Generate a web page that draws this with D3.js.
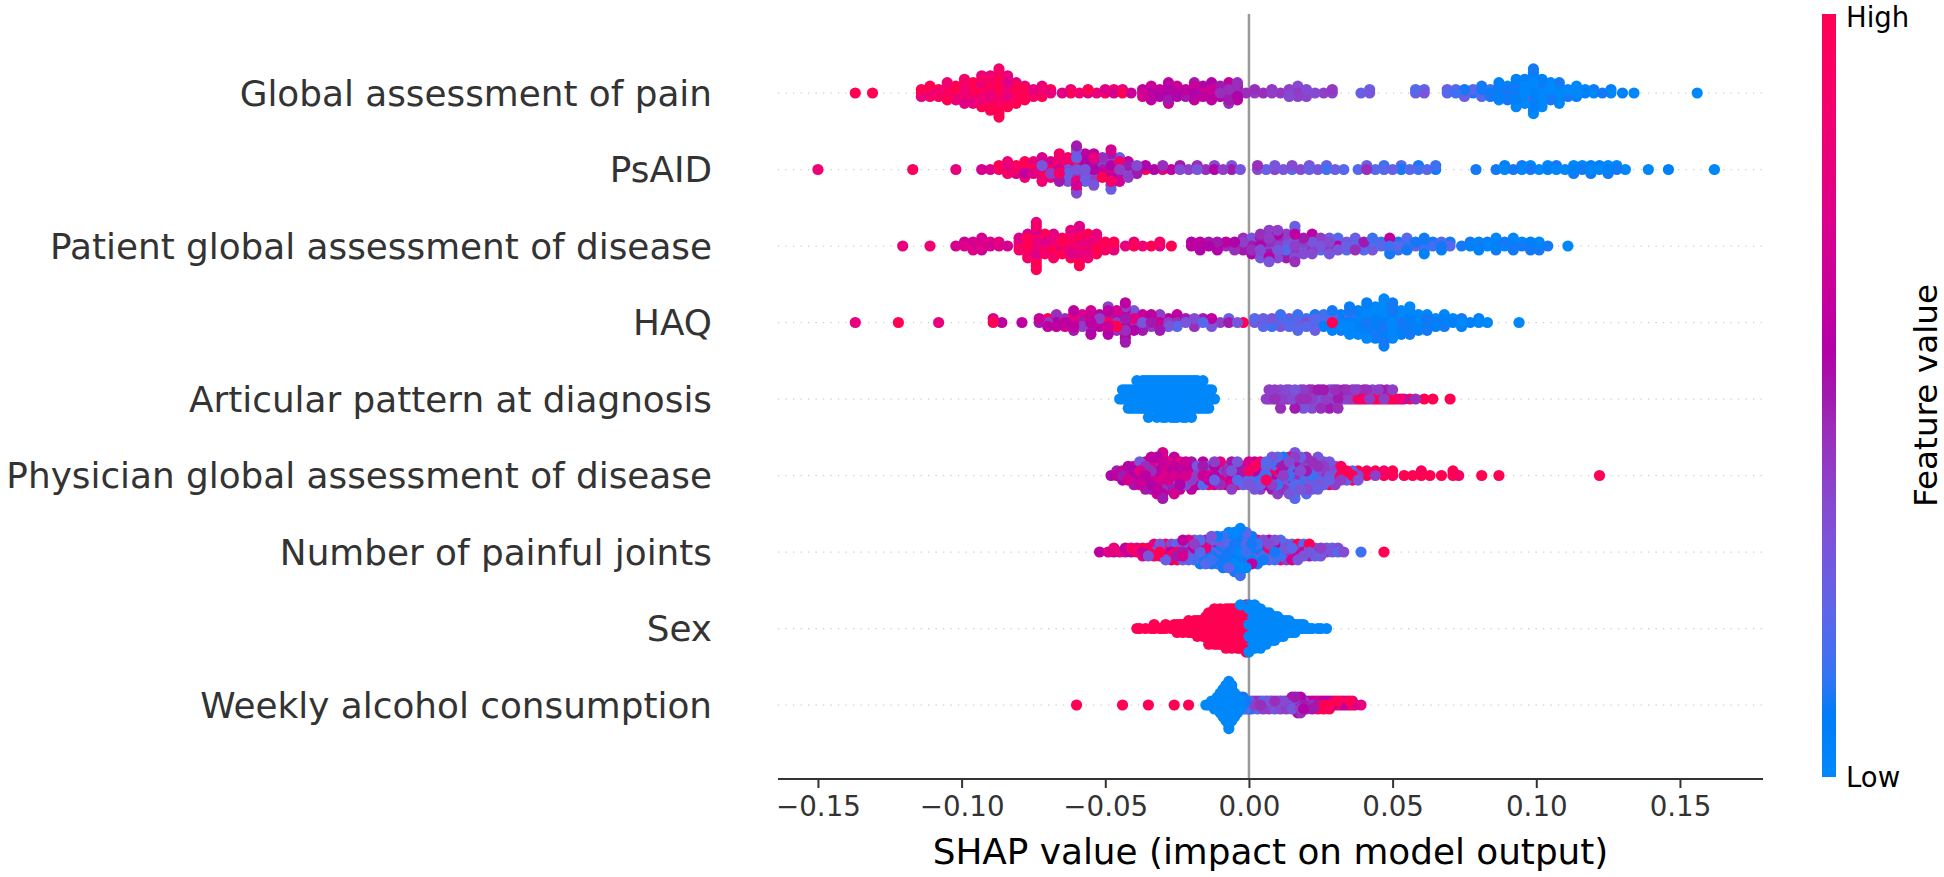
<!DOCTYPE html>
<html>
<head>
<meta charset="utf-8">
<script src="https://cdn.jsdelivr.net/npm/d3@7"></script>
<style>
  body { margin: 0; background: #fff; }
  text { font-family: "DejaVu Sans", sans-serif; }
</style>
</head>
<body>
<div id="chart"></div>
<script>
// features, top to bottom
var features = [
  "Global assessment of pain",
  "PsAID",
  "Patient global assessment of disease",
  "HAQ",
  "Articular pattern at diagnosis",
  "Physician global assessment of disease",
  "Number of painful joints",
  "Sex",
  "Weekly alcohol consumption"
];
var tickValues = [-0.15, -0.10, -0.05, 0.00, 0.05, 0.10, 0.15];
var tickLabels = ["\u22120.15", "\u22120.10", "\u22120.05", "0.00", "0.05", "0.10", "0.15"];

// samples grouped by SHAP value: [SHAP value, [feature value of each sample, 0 = low .. 1 = high]]
var globalPain = [
  [-.137,[1]],[-.131,[1]],
  [-.114,[.9,1,.8]],[-.111,[1,.8,.9,1]],[-.108,[.85,1,.9]],[-.105,[1,.8,.9,.75,1,.85]],[-.102,[.75,1,.9,1,.8]],
  [-.099,[1,.85,.8,1,.9,1,.75,.9]],[-.096,[.9,1,.75,1,.85,1,.8]],[-.093,[1,.8,.9,1,.85,.75,1,.9,1,.8]],
  [-.090,[.9,1,.8,1,.75,1,.85,.9,1,.8,1]],[-.087,[1,.85,1,.8,.9,1,.75,1,.9,.8,1,.85,1,.9,1]],
  [-.084,[.9,1,.8,1,.85,.75,1,.9,1,.8]],[-.081,[1,.8,.9,1,.85,.75,1]],[-.078,[.9,1,.75,.85,1]],[-.075,[1,.8,.9]],
  [-.072,[.9,.85,1,.8]],[-.069,[.8,1]],
  [-.065,[.75]],[-.062,[1,.8]],[-.059,[.85]],[-.056,[.7,1]],[-.053,[.8]],[-.050,[1,.75]],[-.047,[.7,.9]],
  [-.044,[1,.8]],[-.041,[.65]],
  [-.037,[.65,.6,.7]],[-.034,[.55,.7,.6,.65,.6]],[-.031,[.6,.65,.55]],[-.028,[.7,.55,.6,.65,.5,.6,.7]],
  [-.025,[.6,.75,.55,.65]],[-.022,[.65,.6,.5]],[-.019,[.55,.6,.7,.65,.6,.5]],[-.016,[.7,.5,.6,.55]],
  [-.013,[.55,.65,.6,.5,.6,.55]],[-.010,[.45,.6,.55,.5]],[-.007,[.6,.45,.5,.55,.5,.6,.45]],[-.004,[.45,.5,.55,.5,.6,.45]],
  [-.001,[.45]],[.002,[.4,.45]],[.005,[.45]],[.008,[.4,.42]],[.011,[.42]],[.014,[.38,.4,.35]],[.017,[.42,.38,.4,.35]],
  [.020,[.4,.35,.38]],[.023,[.35]],[.026,[.4]],[.029,[.38,.42]],
  [.039,[.25]],[.042,[.3,.25]],[.058,[.25,.2]],[.061,[.3,.2]],
  [.069,[.2,.25]],[.072,[.15,.2]],[.075,[.2,.1,.25]],[.078,[.1,.2]],[.081,[.15,.1,.2,.1]],[.084,[.05,.15,.1]],
  [.087,[.1,0,.05,.1,0,.05]],[.090,[0,.1,.05,0,.1]],[.093,[.05,0,.1,0,.05,.1,0,.05,0]],[.096,[0,.1,.05,0,.3,.1,0,.05]],
  [.099,[.05,0,.1,0,.05,0,.1,0,.05,.1,0,.05,0,.1]],[.102,[0,.1,0,.05,0,.1,0,.05,0]],[.105,[.1,0,.05,0,.1,0]],
  [.108,[0,.05,.1,0,.05,.1,0]],[.111,[.05,0,.1]],[.114,[0,.1,.05,0]],[.117,[.05,0]],[.120,[0,.1]],[.123,[.1]],
  [.126,[0,.05]],[.130,[.05]],[.134,[0]],
  [.156,[0]]
];
var psaid = [
  [-.150,[.85]],[-.117,[.95]],[-.102,[.8]],[-.093,[.7]],[-.090,[.75]],
  [-.087,[.9,1]],[-.084,[1,.8,.9,.85]],[-.081,[.9,1,.7]],[-.078,[1,.85,.6,1,.9]],[-.075,[1,.9,.75,.8]],
  [-.072,[1,.3,.8,.9,1,.7,.85]],[-.069,[.9,1,.4,.7,.85]],[-.066,[.7,.3,.9,1,.35,.8,.5,.9]],[-.063,[.35,.5,.25,.8,.4,.9,.3]],
  [-.060,[.3,.6,.35,.9,.45,.25,.8,.4,.7,.3,1,.5,.35]],[-.057,[.3,.7,.4,.55,.3,.9,.25,.6]],
  [-.054,[.55,.3,.9,.5,.35,.8,.4,.6,.3]],[-.051,[.5,.4,.65,.3,1,.45]],[-.048,[.3,.55,1,.4,.6,.35,.9,.5,.4,.7,.25]],
  [-.045,[.4,.6,.35,.9,.5,.25,.7]],[-.042,[.9,.5,.25,.6,.4]],[-.039,[.7,.35,.5]],
  [-.036,[1,.55]],[-.033,[.55]],[-.030,[.8,.45]],[-.027,[.6]],[-.024,[.35,.5]],[-.021,[.4]],[-.018,[.3,.45]],
  [-.015,[.45]],[-.012,[.55,.35]],[-.009,[.4]],[-.006,[.5,.3]],[-.003,[.3]],
  [.003,[.35,.45]],[.006,[.25]],[.009,[.4,.3]],[.012,[.3]],[.015,[.2,.35]],[.018,[.35]],[.021,[.25,.3]],[.024,[.3]],
  [.027,[.15,.25]],[.030,[.25]],[.033,[.2]],
  [.038,[.2]],[.041,[.45,.25]],[.044,[.2]],[.047,[.2,.15]],[.050,[.25]],[.053,[.1,.2]],[.056,[.2]],[.059,[.15,.1]],
  [.062,[.2]],[.065,[.1,.15]],
  [.079,[.1]],
  [.086,[.1]],[.089,[0,.05]],[.092,[.1]],[.095,[0,.1]],[.098,[.1,0]],[.101,[0]],[.104,[.05,0]],[.107,[0,.1]],[.110,[0]],
  [.113,[.05,0,.1]],[.116,[.1,0]],[.119,[0,.05,.1]],[.122,[0,.05]],[.125,[.05,0,.1]],[.128,[.1,0]],[.131,[0]],
  [.139,[0]],[.146,[.05]],[.162,[0]]
];
var patientGlobal = [
  [-.1205,[.8]],[-.111,[.85]],
  [-.102,[.7]],[-.099,[.75,.65]],[-.096,[.8,.7,.75]],[-.093,[.75,.8,.65,.7]],[-.090,[.7,.75]],[-.087,[.75,.8]],[-.084,[.7]],
  [-.080,[.8,1,.9,.75]],[-.077,[1,.75,.9,1,.85,.7,.9]],[-.074,[1,.8,.9,1,.75,1,.85,.7,1,.9,1,.8,1]],
  [-.071,[1,.75,1,.85,.9,1]],[-.068,[.85,.9,1,.8,1,.75,.9]],[-.065,[.8,1,.7,.9,1]],[-.062,[.9,1,.85,1,.75,.9,1,.8]],
  [-.059,[.75,1,.9,1,.8,1,.85,.9,1,.75,1]],[-.056,[1,.8,1,.9,.75,1,.85]],[-.053,[.9,.75,1,.85,1,.8]],[-.050,[.85,1,.9]],
  [-.047,[.9,1,.8]],
  [-.043,[.8]],[-.040,[1,.85]],[-.037,[.85]],[-.034,[1]],[-.031,[.75,.9]],[-.027,[1]],
  [-.020,[.6,.55]],[-.017,[.5,.6,.55]],[-.014,[.55,.5]],[-.011,[.6,.5,.55]],[-.008,[.45,.6]],[-.005,[.5,.55,.45]],
  [-.002,[.6,.4,.5,.45]],
  [.001,[.5,.4,.45,.3,.55]],[.004,[.55,.4,.35,.5,.6,.45,.3]],[.007,[.3,.45,.25,.4,.5,.35,.6,.4,.3]],
  [.010,[.4,.5,.3,.45,.2,.55,.35,.4]],[.013,[.3,.45,.2,.35,.6,.4,.5]],[.016,[.4,.2,.5,.3,.45,.6,.35,.3,.45,.25]],
  [.019,[.3,.4,.2,.5,.35]],[.022,[.5,.3,.45,.25,.35,.6]],[.025,[.3,.6,.2,.4]],[.028,[.2,.35,.45,.25,.3]],
  [.031,[.6,.25,.3,.2]],[.034,[.25,.3,.2]],[.037,[.2,.3,.45,.25]],
  [.040,[.25,.5,.2]],[.043,[.5,.2,.3,.15]],[.046,[.2,.15]],[.049,[.15,.3,.2,.6,.1]],[.052,[.2,.1,.15]],
  [.055,[.15,.25,.1,.2]],[.058,[.25,.1]],[.061,[.1,.2,.15,.1,.05]],[.064,[.15,.1]],[.067,[.1,.2,.05]],[.070,[.2,.1]],
  [.074,[.1]],[.077,[.05,.1]],[.080,[.1,0,.05]],[.083,[0,.1]],[.086,[.05,0,.1,0]],[.089,[0,.1]],[.092,[.05,0,.1,0]],
  [.095,[.1,0]],[.098,[0,.05,.1]],[.101,[.05,0,.1]],[.104,[.1]],
  [.111,[0]]
];
var haq = [
  [-.137,[.8]],[-.122,[1]],[-.108,[.8]],[-.089,[1,.75]],[-.086,[.6]],[-.079,[.6]],
  [-.073,[.5,.65]],[-.070,[.4,1,.6]],[-.067,[.55,.8,.6,.45]],[-.064,[.6,.45,.7]],[-.061,[.75,.4,.6,.85,.5,.6]],
  [-.058,[.5,.65,.4,.7]],[-.055,[.6,1,.45,.65,.5,.7,.55]],[-.052,[.75,.4,.6,.55]],[-.049,[1,.45,.65,.5,.75,.6,.55,.4]],
  [-.046,[.4,.6,1,.55,.45,.7]],[-.043,[.7,.5,.6,.85,.45,.65,1,.4,.55,.6,.5]],[-.040,[.5,.75,.4,.6,.55,.3]],
  [-.037,[.3,.6,.45,.65,.5]],[-.034,[.5,.75,.4,.6]],[-.031,[.6,.55,.7,.4,.5]],[-.028,[.4,.6,.3]],[-.025,[.45,.55,.2,.6]],
  [-.022,[.3,.5]],[-.019,[.55,.35,.45]],[-.016,[.2,.5]],[-.013,[.35,.6,.3]],[-.010,[.4]],[-.007,[.5,.25]],[-.004,[.3]],
  [-.002,[1]],
  [.002,[.3,.2]],[.005,[1,.25,.2]],[.008,[.2,.3,.15]],[.011,[.25,.2,.3,.15]],[.014,[.15,.3,.2]],[.017,[.2,.1,.25,.15,.2]],
  [.020,[.35,.15,.2]],[.023,[.1,.2,.15,.1,.25]],[.026,[.2,.1,.05,.15]],[.029,[1,.15,.1,.2,.05,.1]],[.032,[.1,.2,0,.05,.1]],
  [.035,[.05,.1,0,.15,.05,.1,0,.05]],[.038,[0,.1,.05,0,.1,.05,0]],[.041,[.1,0,.05,0,.1,0,.05,.1,0,.05]],
  [.044,[0,.05,.1,0,.05,0,.1,0,.05]],[.047,[.05,0,.1,0,.05,0,.1,0,.05,0,.1,0,.05]],[.050,[0,.1,0,.05,0,.1,0,.05,0,.1]],
  [.053,[.1,0,.05,0,.1,0,.05]],[.056,[0,.05,.1,0,.05,0,.1,0]],[.059,[.05,0,.1,0,.05]],[.062,[0,.1,.05,0,.1]],
  [.065,[.1,0,.05]],[.068,[0,.05,.1,0]],[.071,[.05,0]],[.074,[0,.1,.05]],[.077,[.05]],[.080,[0,.05]],[.083,[0]],
  [.094,[0]]
];
var articular = [
  [-.045,[0]],[-.044,[0,0]],[-.043,[0,0]],[-.042,[0,0,0]],[-.041,[0,0,0]],[-.040,[0,0,0]],[-.039,[0,0,0,0]],
  [-.038,[0,0,0]],[-.037,[0,0,0,0]],[-.036,[0,0,0,0]],[-.035,[0,0,0,0,0]],[-.034,[0,0,0,0]],[-.033,[0,0,0,0]],
  [-.032,[0,0,0,0,0]],[-.031,[0,0,0,0]],[-.030,[0,0,0,0,0]],[-.029,[0,0,0,0,0]],[-.028,[0,0,0,0]],
  [-.027,[0,0,0,0,0]],[-.026,[0,0,0,0,0]],[-.025,[0,0,0,0,0]],[-.024,[0,0,0,0]],[-.023,[0,0,0,0,0]],
  [-.022,[0,0,0,0,0]],[-.021,[0,0,0,0]],[-.020,[0,0,0,0,0]],[-.019,[0,0,0,0]],[-.018,[0,0,0,0]],[-.017,[0,0,0]],
  [-.016,[0,0,0,0]],[-.015,[0,0,0]],[-.014,[0,0,0]],[-.013,[0,0]],[-.012,[0]],
  [.006,[.4]],[.007,[.45,.4]],[.008,[.35]],[.009,[.45,.4]],[.010,[.5]],[.011,[.4,.35,.45]],[.012,[.4]],
  [.013,[.45,.35]],[.014,[.5,.4]],[.015,[.35]],[.016,[.45,.3,.5]],[.017,[.4]],[.018,[.45,.35]],[.019,[.5,.4,.3]],
  [.020,[.45]],[.021,[.35,.5]],[.022,[.4,.45,.35]],[.023,[.3]],[.024,[.45,.5]],[.025,[.35,.4,.45]],[.026,[.3,.5]],
  [.027,[.4]],[.028,[.45,.35,.5]],[.029,[.4,.3]],[.030,[.35,.45]],[.031,[.5,.4,.45]],[.032,[.35]],[.033,[.4,.5]],
  [.034,[.3,.45]],[.035,[.4]],[.036,[1,.45]],[.037,[.35,.4]],[.038,[1,.45]],[.039,[.9]],[.040,[.4,.5]],
  [.041,[1,.45]],[.042,[.4]],[.043,[.9,.35]],[.044,[1]],[.045,[.45,.4]],[.046,[1,.5]],[.047,[.4]],[.048,[.9,.45]],
  [.049,[1]],[.050,[.6,.4]],[.051,[1]],[.052,[.45]],[.053,[.85]],[.054,[.5]],[.056,[1]],[.058,[.45]],[.061,[1]],
  [.064,[1]],[.070,[1]]
];
var physicianGlobal = [
  [-.048,[.55]],[-.046,[.6,.5]],[-.044,[.5,.65,.55]],[-.042,[.65,.3,.7,.55]],[-.040,[.7,.55,.6,.8,.5]],
  [-.038,[.5,.75,.6,.55,.65,.3]],[-.036,[.6,.55,.7,.45,.8,.6,.5]],[-.034,[.7,.45,.65,.6,.55,.75,.5,.6]],
  [-.032,[.65,.6,.8,.5,.7,.3,.6,.55,.65]],[-.030,[.75,.5,.6,.7,.55,.65,.45,.8,.6,.7,.5]],[-.028,[.6,.3,.7,.55,.65,.75,.5]],
  [-.026,[.7,.55,.65,.6,.25,.75,.5,.6,.7]],[-.024,[.65,.6,.7,.5,.55,.8,.6]],[-.022,[.7,.5,.75,.6,.35,.65]],
  [-.020,[.75,.6,.4,.55,.7,.5,.6]],[-.018,[.4,.55,.65,.3,.6]],[-.016,[.65,.3,.8,.5,.2,.6]],[-.014,[.8,.5,.6,.25,.9]],
  [-.012,[.6,.9,.25,.55,.7,.4]],[-.010,[.25,.55,.7,.2,.45,.8]],[-.008,[.7,.45,.9,.3,.6]],[-.006,[.9,.3,.6,.2,.75,.5,.4]],
  [-.004,[.6,.75,.2,.5,.9,.3]],[-.002,[.2,.5,.4,.8,.25]],[.000,[.4,.9,.2,.55,.3,.7]],[.002,[.2,.55,.3,.95,.15,.6,.3]],
  [.004,[.3,.7,.15,.5,.25,.85,.4]],[.006,[.15,.5,.95,.25,.6,.2]],[.008,[.95,.25,.6,.2,.4,.15,.5,.3]],
  [.010,[.6,.2,.4,.85,.15,.5,.3,.2,.4]],[.012,[.4,.85,.15,.5,.3,.2,.45,.1]],[.014,[.15,.5,.3,.2,.45,.35,.2,.9,.3]],
  [.016,[.3,.2,.45,.35,.2,.5,.15,.4,.25,.3,.2]],[.018,[.45,.35,.2,.5,.15,.4,.3,.25]],[.020,[.2,.5,.15,.4,.3,.25,.35,.45,.2]],
  [.022,[.15,.4,.3,.35,.2,.45,.3]],[.024,[.3,.35,.2,.45,.3,.4,.25,.3]],[.026,[.2,.45,.3,.4,.25,.35]],
  [.028,[.3,.4,.25,.35,1,.3]],[.030,[.25,.35,1,.3,.4]],[.032,[1,.3,.4,.95]],[.034,[.4,1,.25]],[.036,[1,.25,.95]],
  [.038,[.35,1,.3]],
  [.041,[1,.9]],[.044,[.4,1]],[.047,[1,.9]],[.050,[.95,1]],[.054,[1]],[.057,[1]],[.060,[1,.9]],[.063,[1]],
  [.067,[1]],[.071,[1,1]],[.073,[.9]],[.081,[1]],[.087,[1]],[.122,[1]]
];
var painfulJoints = [
  [-.052,[.6]],[-.049,[.75]],[-.047,[.65,.8]],[-.045,[.8]],[-.043,[.7,.6]],[-.041,[.6,.9]],[-.039,[.9,.75]],
  [-.037,[.65,1,.75]],[-.035,[1,.8,.3]],[-.033,[.3,.7,1,.8]],[-.031,[1,.25,.85,.3]],[-.029,[.85,.3,.6,1,.25]],
  [-.027,[.6,.2,.9,.35,.7]],[-.025,[.9,.35,.5,.2,1]],[-.023,[.5,.2,.7,.3,.25,.6]],[-.021,[.7,.3,.25,.6,.2,.8]],
  [-.019,[.25,.6,.2,.4,.15,.3]],[-.017,[.2,.4,.15,.8,.35,.2,.1]],[-.015,[.15,.8,.2,.35,.1,.5,.2]],
  [-.013,[.2,.35,.1,.5,.15,.25,.1,.3]],[-.011,[.1,.5,.15,.25,.1,.3,.2,.05]],[-.009,[.15,.25,.1,.3,.1,.2,0,.15,.1]],
  [-.007,[.1,.3,.1,.2,0,.15,.1,.05,.2,0]],[-.005,[.2,0,.15,.1,.05,.2,0,.1,.15,0,.1]],
  [-.003,[0,.2,.1,.05,.15,0,.1,.2,0,.05,.1,0,.15]],[-.001,[.15,0,.1,.2,.05,0,.1,.15,0,.2]],
  [.001,[.2,.05,.3,.1,0,.15,.6,.1]],[.003,[.3,.1,.6,.15,.2,.9,.1]],[.005,[.6,.15,.2,.9,.1,.35]],
  [.007,[.2,.9,.1,.35,.2,.6]],[.009,[.1,.35,.2,.6,.15,.3]],[.011,[.2,.6,.15,.3,.9,.2]],[.013,[.15,.3,.9,.2,.4]],
  [.015,[.9,.2,.4,.25,.7]],[.017,[.4,.25,.7,1,.3]],[.019,[.7,1,.3,.2]],[.021,[.3,.2,.5,1]],[.023,[.5,.35,.25]],
  [.025,[.25,.4,.3]],[.027,[.4,.3]],[.029,[.3,.2]],[.031,[.2,.35]],[.033,[.35]],[.039,[.15]],[.047,[1]]
];
var sex = [
  [-.039,[1]],[-.038,[1]],[-.036,[1]],[-.034,[1]],[-.033,[1,1]],[-.031,[1]],[-.030,[1]],[-.029,[1,1]],[-.027,[1]],
  [-.026,[1,1]],[-.025,[1,1,1]],[-.024,[1,1]],[-.023,[1,1,1]],[-.022,[1,1]],[-.021,[1,1,1,1]],[-.020,[1,1,1]],
  [-.019,[1,1,1,1]],[-.018,[1,1,1,1,1]],[-.017,[1,1,1,1]],[-.016,[1,1,1,1,1]],[-.015,[1,1,1,1,1,1]],
  [-.014,[1,1,1,1,1,1,1,1,1]],[-.013,[1,1,1,1,1,1,1,1]],[-.012,[1,1,1,1,1,1,1,1,1,1]],[-.011,[1,1,1,1,1,1,1,1,1]],
  [-.010,[1,1,1,1,1,1,1,1,1,1]],[-.009,[1,1,1,1,1,1,1,1,1]],[-.008,[1,1,1,1,1,1,1,1,1,1,1]],
  [-.007,[1,1,1,1,1,1,1,1,1,1]],[-.006,[1,1,1,1,1,1,1,1,1,1,1]],[-.005,[1,1,1,1,1,1,1,1,1,1]],
  [-.004,[1,1,1,1,1,1,1,1,1,1,1]],[-.003,[1,1,1,1,1,1,1,1,1,1,1,0]],[-.002,[1,1,1,1,1,1,1,1,1,1,1]],
  [-.001,[1,1,1,1,1,1,1,1,1,1,1,1,1]],
  [.000,[0,0,0,0,0,0,0,0,0,0,0,0,0]],[.001,[0,0,0,0,0,0,0,0,0,0,0]],[.002,[0,0,0,0,0,0,0,0,0,0,0,0]],
  [.003,[0,0,0,0,0,0,0,0,0,0]],[.004,[0,0,0,0,0,0,0,0,0,0,0]],[.005,[0,0,0,0,0,0,0,0,0]],[.006,[0,0,0,0,0,0,0,0,0]],
  [.007,[0,0,0,0,0,0,0,0]],[.008,[0,0,0,0,0,0,0]],[.009,[0,0,0,0,0,0,0]],[.010,[0,0,0,0,0,0]],[.011,[0,0,0,0,0]],
  [.012,[0,0,0,0,0]],[.013,[0,0,0,0]],[.014,[0,0,0,0]],[.015,[0,0,0]],[.016,[0,0,0]],[.017,[0,0]],[.018,[0,0]],
  [.019,[0,0]],[.020,[0]],[.021,[0]],[.022,[0]],[.024,[0]],[.025,[0]],[.027,[0]]
];
var alcohol = [
  [-.060,[1]],[-.044,[1]],[-.035,[1]],[-.026,[1]],[-.021,[1]],
  [-.015,[0]],[-.014,[0]],[-.013,[0,0]],[-.012,[0,0,0]],[-.011,[0,0,0,0]],[-.010,[0,0,0,0,0,0]],
  [-.009,[0,0,0,0,0,0,0,0]],[-.008,[0,0,0,0,0,0,0,0,0,0]],[-.007,[0,0,0,0,0,0,0,0,0,0,0,0,0]],
  [-.006,[0,0,0,0,0,0,0,0,0,0]],[-.005,[0,0,0,0,0,0,0]],[-.004,[0,0,0,0,0]],[-.003,[0,0,0,0]],[-.002,[0,0,0,.1]],
  [-.001,[0,.1,.2]],
  [.000,[.3,.2,.1]],[.001,[.2,.4,.3]],[.002,[.4,.3]],[.003,[.3,.45,.2]],[.004,[.45,.35]],[.005,[.35,.2,.4]],
  [.006,[.2,.5]],[.007,[.5,.3,.4]],[.008,[.3,.4]],[.009,[.4,.45,.3]],[.010,[.45,.3]],[.011,[.3,.5,.35]],
  [.012,[.5,.35]],[.013,[.35,.55,.4]],[.014,[.55,.4]],[.015,[.4,.45,.3,.5]],[.016,[.45,.3,.6,.5]],
  [.017,[.3,.6,.5,.4,.55]],[.018,[.6,.5,.4,.55,.45]],[.019,[.5,.4,.55]],[.020,[.4,.55,.45]],[.021,[.55,.45]],
  [.022,[.45,.6,.5]],[.023,[.6,.5]],[.024,[.5,.7,1]],[.025,[.7,1]],[.026,[1,.55,1]],[.027,[.55,1]],[.028,[1,.6,1]],
  [.029,[.6,1]],[.030,[1,.8]],[.031,[.8,1]],[.032,[1,.6]],[.033,[.6,1]],[.034,[1,.7]],[.035,[.7,1]],[.036,[1,.75]],
  [.037,[.75]],[.039,[.8]]
];
var rows = [globalPain, psaid, patientGlobal, haq, articular, physicianGlobal, painfulJoints, sex, alcohol];

var width = 1944, height = 877;
var plotLeft = 778, plotRight = 1763, plotTop = 14, plotBottom = 779;

var svg = d3.select("#chart")
  .append("svg")
  .attr("width", width)
  .attr("height", height)
  .style("background", "#fff");

var x = d3.scaleLinear().domain([-0.1639, 0.1789]).range([plotLeft, plotRight]);
// row positions: 0 = bottom feature, 8 = top feature
var y = d3.scaleLinear().domain([0, features.length - 1]).range([705, 93]);

// shap red_blue map: hue/chroma/lightness interpolated in LCh
function shapColor(t) {
  t = Math.max(0, Math.min(1, t));
  var l = t < 0.5 ? 54 - 28 * t : 40 + 28 * (t - 0.5);
  return d3.hcl(266.93 + t * 113.39, 70 + 20 * t, l).formatRgb();
}

// beeswarm offsets, stacked the way shap's summary plot does it
function swarm(groups) {
  var pts = [];
  groups.forEach(function (g) {
    g[1].forEach(function (f, layer) {
      pts.push({ v: g[0], f: f, k: Math.ceil(layer / 2) * ((layer % 2) * 2 - 1) });
    });
  });
  var m = d3.max(pts, function (p) { return p.k; }) + 1;
  pts.forEach(function (p, i) {
    p.dy = p.k * 0.9 * 0.4 / m;
    p.order = (i * 0.6180339887) % 1; // mixed drawing order, like shap's shuffled samples
  });
  return pts.sort(function (a, b) { return a.order - b.order; });
}

// row guide lines
features.forEach(function (f, i) {
  var pos = features.length - 1 - i;
  svg.append("line")
    .attr("x1", plotLeft).attr("x2", plotRight)
    .attr("y1", y(pos)).attr("y2", y(pos))
    .attr("stroke", "#cccccc")
    .attr("stroke-width", 1.25)
    .attr("stroke-dasharray", "1.25,6.25");
});

// zero line
svg.append("line")
  .attr("x1", x(0)).attr("x2", x(0))
  .attr("y1", plotTop).attr("y2", plotBottom)
  .attr("stroke", "#999999")
  .attr("stroke-width", 2.5);

// points
rows.forEach(function (data, i) {
  var pos = features.length - 1 - i;
  svg.append("g")
    .selectAll("circle")
    .data(swarm(data))
    .enter()
    .append("circle")
    .attr("cx", function (d) { return x(d.v); })
    .attr("cy", function (d) { return y(pos + d.dy); })
    .attr("r", 5.6)
    .attr("fill", function (d) { return shapColor(d.f); });
});

// feature labels
svg.append("g")
  .selectAll("text")
  .data(features)
  .enter()
  .append("text")
  .attr("x", 712)
  .attr("y", function (d, i) { return y(features.length - 1 - i); })
  .attr("dy", "0.36em")
  .attr("text-anchor", "end")
  .attr("fill", "#333333")
  .style("font-size", "35.8px")
  .text(function (d) { return d; });

// x axis
var xAxis = d3.axisBottom(x)
  .tickValues(tickValues)
  .tickFormat(function (d, i) { return tickLabels[i]; })
  .tickSize(9)
  .tickPadding(8);
var gx = svg.append("g")
  .attr("transform", "translate(0," + plotBottom + ")")
  .call(xAxis);
gx.select(".domain")
  .attr("d", "M" + plotLeft + ",0H" + plotRight)
  .attr("stroke", "#333333")
  .attr("stroke-width", 2);
gx.selectAll(".tick line").attr("stroke", "#333333").attr("stroke-width", 2);
gx.selectAll(".tick text")
  .attr("fill", "#333333")
  .style("font-family", "DejaVu Sans")
  .style("font-size", "27.7px");

svg.append("text")
  .attr("x", (plotLeft + plotRight) / 2)
  .attr("y", 864)
  .attr("text-anchor", "middle")
  .attr("fill", "#000")
  .style("font-size", "35.8px")
  .text("SHAP value (impact on model output)");

// colour bar
var defs = svg.append("defs");
var grad = defs.append("linearGradient")
  .attr("id", "cbar")
  .attr("x1", 0).attr("y1", 1).attr("x2", 0).attr("y2", 0);
d3.range(0, 1.0001, 0.02).forEach(function (t) {
  grad.append("stop").attr("offset", t).attr("stop-color", shapColor(t));
});
var cbTop = 14, cbBottom = 777;
svg.append("rect")
  .attr("x", 1822).attr("y", cbTop)
  .attr("width", 14).attr("height", cbBottom - cbTop)
  .attr("fill", "url(#cbar)");
svg.append("text")
  .attr("x", 1846).attr("y", 27)
  .style("font-size", "27.5px")
  .attr("fill", "#000")
  .text("High");
svg.append("text")
  .attr("x", 1846).attr("y", cbBottom).attr("dy", "0.36em")
  .style("font-size", "27.5px")
  .attr("fill", "#000")
  .text("Low");
svg.append("text")
  .attr("transform", "translate(1937," + ((cbTop + cbBottom) / 2) + ") rotate(-90)")
  .attr("text-anchor", "middle")
  .style("font-size", "32.7px")
  .attr("fill", "#000")
  .text("Feature value");
</script>
</body>
</html>
